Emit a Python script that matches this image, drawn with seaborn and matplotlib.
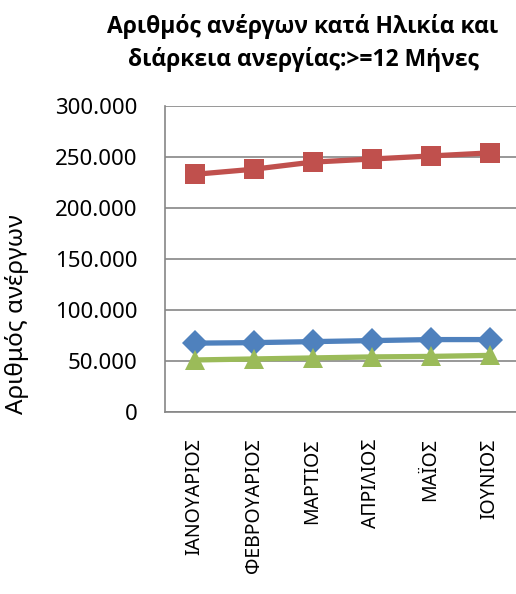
import seaborn as sns
import matplotlib.pyplot as plt
from matplotlib.ticker import FuncFormatter

# Δεδομένα
months = ['ΙΑΝΟΥΑΡΙΟΣ', 'ΦΕΒΡΟΥΑΡΙΟΣ', 'ΜΑΡΤΙΟΣ', 'ΑΠΡΙΛΙΟΣ', 'ΜΑΪΟΣ', 'ΙΟΥΝΙΟΣ']
blue_vals = [67500, 68000, 69000, 70000, 71000, 71000]
red_vals = [233000, 238000, 245000, 248000, 251000, 254000]
green_vals = [51000, 52000, 53000, 54000, 54500, 55500]

sns.set_style('white')
plt.rcParams['font.family'] = ['Noto Sans', 'DejaVu Sans']
plt.rcParams['text.color'] = 'black'
plt.rcParams['xtick.color'] = 'black'
plt.rcParams['ytick.color'] = 'black'
plt.rcParams['axes.labelcolor'] = 'black'

fig = plt.figure(figsize=(5.16, 5.94), dpi=100)
ax = fig.add_axes([165 / 516, 182 / 594, 354 / 516, 306 / 594])

x = list(range(len(months)))
sns.lineplot(x=x, y=blue_vals, ax=ax, color='#4F81BD', linewidth=3.8,
             marker='D', markersize=13, markeredgewidth=0)
sns.lineplot(x=x, y=red_vals, ax=ax, color='#C0504D', linewidth=3.8,
             marker='s', markersize=14, markeredgewidth=0)
sns.lineplot(x=x, y=green_vals, ax=ax, color='#9BBB59', linewidth=3.8,
             marker='^', markersize=15, markeredgewidth=0)

ax.set_xlim(-0.5, 5.5)
ax.set_ylim(0, 300000)
ax.set_yticks(range(0, 300001, 50000))
ax.yaxis.set_major_formatter(FuncFormatter(lambda v, p: f'{int(v):,}'.replace(',', '.')))
ax.set_xticks([i + 0.5 for i in range(-1, 6)], minor=False)
ax.set_xticklabels([])
ax.set_xticks(x, minor=True)
ax.set_xticklabels(months, minor=True, rotation=90, fontsize=14)
ax.tick_params(axis='x', which='minor', length=0, pad=19)
ax.tick_params(axis='x', which='major', length=6, width=1.2, color='#868686', direction='out')
ax.tick_params(axis='y', length=5.8, width=1.2, color='#868686', direction='out', labelsize=16, pad=14)

ax.grid(axis='y', color='#868686', linewidth=1.2)
for s in ['top', 'right']:
    ax.spines[s].set_visible(False)
for s in ['left', 'bottom']:
    ax.spines[s].set_color('#868686')
    ax.spines[s].set_linewidth(1.2)

ax.set_ylabel('Αριθμός ανέργων', fontsize=17.5)
ax.yaxis.set_label_coords((29 - 165) / 354, 0.32)

fig.text(303 / 516, 1 - 43 / 594, 'Αριθμός ανέργων κατά Ηλικία και\nδιάρκεια ανεργίας:>=12 Μήνες',
         ha='center', va='center', fontsize=16.5, fontweight='bold', linespacing=1.4,
         family=['Open Sans', 'DejaVu Sans'])

plt.savefig('out.png', dpi=100)
